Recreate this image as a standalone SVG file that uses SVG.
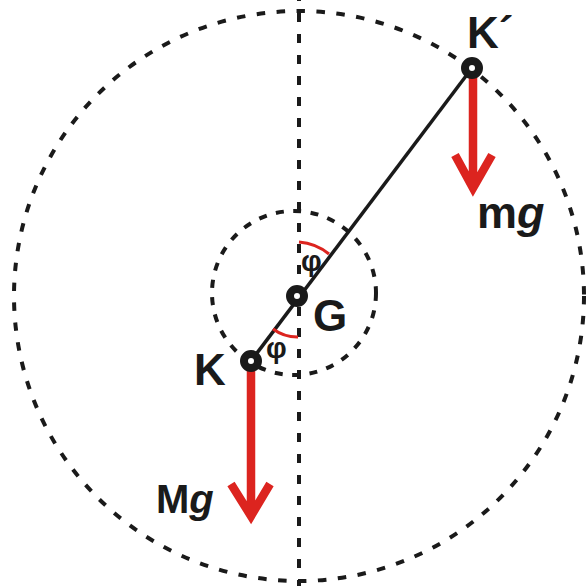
<svg xmlns="http://www.w3.org/2000/svg" width="587" height="586" viewBox="0 0 587 586">
<style>
.dash{fill:none;stroke:#1a1a1a;stroke-width:4}
.rod{stroke:#1a1a1a;stroke-width:3.5;fill:none}
.ring{fill:#fff;stroke:#1a1a1a;stroke-width:8}
.force{stroke:#dc241f;stroke-width:8.5;fill:none}
.angle{stroke:#dc241f;stroke-width:3;fill:none}
.lbl{font-family:"Liberation Sans",Arial,sans-serif;font-weight:bold;fill:#1a1a1a}
.phi{font-family:"Liberation Sans",Arial,sans-serif;font-weight:bold;fill:#1a1a1a;font-size:29px}
</style>
<rect width="587" height="586" fill="#fff"/>
<g id="connectors">
<circle class="dash" cx="299" cy="296" r="285" stroke-dasharray="8.5 11.5"/>
<circle class="dash" cx="294" cy="293" r="82" stroke-dasharray="8 9.5"/>
<line class="dash" x1="299" y1="0" x2="299" y2="586" stroke-dasharray="9 12" stroke-dashoffset="-13"/>
<line class="rod" x1="251" y1="361" x2="472" y2="68"/>
<path class="angle" d="M299 242 A54 54 0 0 1 329 254"/>
<path class="angle" d="M273 329 A41 41 0 0 0 298 337"/>
<path class="force" d="M251 371 V514 M231 484 L251 516 L270 484"/>
<path class="force" d="M473 77 V186 M455 155 L473 188 L492 155"/>
</g>
<g id="node-K">
<circle class="ring" cx="251" cy="361" r="7"/>
<text class="lbl" x="194" y="385" font-size="44">K</text>
</g>
<g id="node-G">
<circle class="ring" cx="297" cy="296" r="7"/>
<text class="lbl" x="313" y="331" font-size="44">G</text>
</g>
<g id="node-Kprime">
<circle class="ring" cx="472" cy="68" r="7"/>
<text class="lbl" x="467" y="48" font-size="44">K´</text>
</g>
<g id="label-mg">
<text class="lbl" x="477" y="228" font-size="45">m<tspan font-style="italic">g</tspan></text>
</g>
<g id="label-Mg">
<text class="lbl" x="156" y="513" font-size="40">M<tspan font-style="italic">g</tspan></text>
</g>
<g id="label-phi">
<text class="phi" x="301" y="271">φ</text>
<text class="phi" x="266" y="358">φ</text>
</g>
</svg>
